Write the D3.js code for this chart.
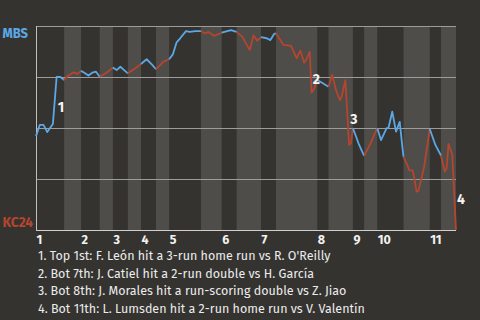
<!DOCTYPE html>
<html><head><meta charset="utf-8">
<script src="https://cdn.jsdelivr.net/npm/d3@7"></script>
<style>html,body{margin:0;padding:0;background:#353330;} svg{display:block}</style>
</head><body><svg id="c" width="480" height="320"></svg>
<script>
const innings = ["1","2","3","4","5","6","7","8","9","10","11"];
const teams = ["MBS","KC24"];
// plays per half inning (top, bottom, top, bottom ...)
const halfInningPlays = [15,9,10,7,8,7,8,7,17,11,8,13,8,22,6,13,6,7,14,14,6,8];
const playIndex = [
  0,2,4,6,9,11,13,15,
  17,20,22,24,
  26,28,30,32,34,
  38,41,
  43,45,47,49,
  53,56,
  59,62,64,
  68,71,
  73,75,77,80,82,85,88,
  90,92,95,99,
  102,104,107,
  110,114,116,118,120,
  123,125,127,128,
  132,136,139,141,143,144,146,147,148,150,
  153,156,
  158,160,162,163,165,167,168,169,
  172,175,
  178,182,
  184,187,188,190,192,194,195,196,
  198,199,201,203,204,207,210,
  213,216,
  218,219,220,222,224
];
const mbsWinProb = [
  0.46,0.515,0.515,0.48,0.52,0.75,0.75,0.735,
  0.755,0.773,0.765,0.78,
  0.77,0.757,0.771,0.776,0.751,
  0.773,0.796,
  0.784,0.80,0.784,0.768,
  0.793,0.814,
  0.837,0.809,0.788,
  0.825,0.837,
  0.861,0.92,0.941,0.975,0.971,0.975,0.975,
  0.964,0.971,0.952,0.967,
  0.975,0.98,0.971,
  0.948,0.882,0.954,0.928,0.945,
  0.94,0.931,0.961,0.964,
  0.907,0.903,0.842,0.879,0.82,0.833,0.874,0.673,0.686,0.735,
  0.719,0.702,
  0.76,0.686,0.637,0.653,0.735,0.417,0.425,0.5,
  0.425,0.363,
  0.417,0.499,
  0.441,0.499,0.501,0.58,0.482,0.53,0.441,0.359,
  0.319,0.294,0.291,0.188,0.193,0.31,0.495,
  0.417,0.365,
  0.286,0.302,0.422,0.37,0.0
];
const eventLabels = ["1","2","3","4"];
const eventFromPlay = [9,146,165,222];
const eventToPlay = [11,147,167,224];
const eventNotes = [
  "1. Top 1st: F. León hit a 3-run home run vs R. O'Reilly",
  "2. Bot 7th: J. Catiel hit a 2-run double vs H. García",
  "3. Bot 8th: J. Morales hit a run-scoring double vs Z. Jiao",
  "4. Bot 11th: L. Lumsden hit a 2-run home run vs V. Valentín"
];

const W = 480, H = 320;
const BG = "#353330", BAND = "#4f4d4a";
const BLUE = "#5ba8e6", RED = "#b4452f";
const svg = d3.select("#c");
svg.append("rect").attr("width", W).attr("height", H).attr("fill", BG);

const total = d3.sum(halfInningPlays);
const x = d3.scaleLinear().domain([0, total]).range([36, 456]);
const y = d3.scaleLinear().domain([0, 1]).range([230, 26]);

const bounds = [0];
halfInningPlays.forEach(n => bounds.push(bounds[bounds.length-1] + n));
const halves = halfInningPlays.map((n, i) => ({i, start: bounds[i], end: bounds[i+1], top: i % 2 === 0}));

// bands for bottom halves
svg.append("g").selectAll("rect").data(halves.filter(h => !h.top)).join("rect")
  .attr("x", d => x(d.start)).attr("width", d => x(d.end) - x(d.start))
  .attr("y", y(1)).attr("height", y(0) - y(1)).attr("fill", BAND);

// grid lines
const gridVals = [0.25, 0.5, 0.75, 1];
svg.append("g").selectAll("line").data(gridVals).join("line")
  .attr("x1", x(0)).attr("x2", x(total))
  .attr("y1", d => Math.round(y(d)) + 0.5).attr("y2", d => Math.round(y(d)) + 0.5)
  .attr("stroke", "#9d9c9a").attr("stroke-width", 1);
// axes
svg.append("line").attr("x1", x(0)).attr("x2", x(total))
  .attr("y1", Math.round(y(0)) + 0.5).attr("y2", Math.round(y(0)) + 0.5)
  .attr("stroke", "#d0cfcd").attr("stroke-width", 1);
svg.append("line").attr("x1", Math.round(x(0)) + 0.5).attr("x2", Math.round(x(0)) + 0.5)
  .attr("y1", y(1)).attr("y2", y(0) + 0.5)
  .attr("stroke", "#c0bfbd").attr("stroke-width", 1);

// line data
const pts = playIndex.map((p, k) => ({p, v: mbsWinProb[k]}));
const line = d3.line().x(d => x(d.p)).y(d => y(d.v));
svg.append("g").selectAll("path").data(halves).join("path")
  .attr("d", h => line(pts.filter(d => d.p >= h.start && d.p <= h.end)))
  .attr("fill", "none").attr("stroke", h => h.top ? BLUE : RED)
  .attr("stroke-width", 1.8).attr("stroke-linejoin", "round");

// inning labels
const FONT = "'Fira Sans','Open Sans','Noto Sans',sans-serif";
svg.append("g").selectAll("text").data(innings).join("text")
  .attr("x", (d, i) => x(bounds[2*i]) + 0.5).attr("y", 244)
  .attr("font-family", FONT).attr("font-weight", "bold").attr("font-size", 12.5)
  .attr("fill", "#f2f2f2").text(d => d);

// team labels
svg.append("text").attr("x", 2.5).attr("y", 38).text(teams[0])
  .attr("font-family", FONT).attr("font-weight", "bold")
  .attr("font-size", 15).attr("fill", BLUE)
  .attr("textLength", 25.5).attr("lengthAdjust", "spacingAndGlyphs");
svg.append("text").attr("x", 2.5).attr("y", 226.5).text(teams[1])
  .attr("font-family", FONT).attr("font-weight", "bold")
  .attr("font-size", 14.5).attr("fill", RED)
  .attr("textLength", 30.5).attr("lengthAdjust", "spacingAndGlyphs");

// event markers
const valAt = p => mbsWinProb[playIndex.indexOf(p)];
svg.append("g").selectAll("text").data(eventLabels).join("text")
  .attr("x", (d, i) => x(eventToPlay[i]) + 1)
  .attr("y", (d, i) => (y(valAt(eventFromPlay[i])) + y(valAt(eventToPlay[i]))) / 2 + 12)
  .attr("font-family", FONT).attr("font-weight", "bold").attr("font-size", 14)
  .attr("fill", "#f4f4f4").text(d => d);

// notes
svg.append("g").selectAll("text").data(eventNotes).join("text")
  .attr("x", 38).attr("y", (d, i) => 260 + i * 17.7)
  .attr("font-family", FONT).attr("font-size", 12.5)
  .attr("fill", "#ececec").text(d => d);
</script></body></html>
